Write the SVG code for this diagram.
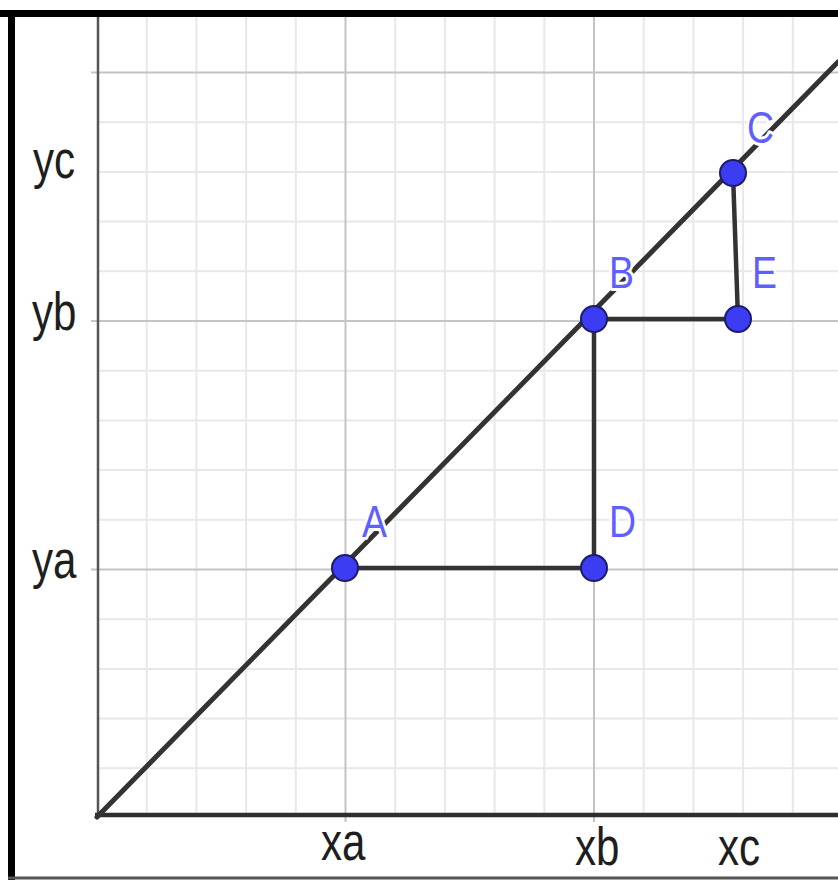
<svg xmlns="http://www.w3.org/2000/svg" width="838" height="880" viewBox="0 0 838 880">
<style>
.minor{stroke:#e8e8e8;stroke-width:2;fill:none}
.major{stroke:#c4c4c4;stroke-width:2;fill:none}
.seg{stroke:#333333;stroke-width:4.5;fill:none;stroke-linecap:round}
.diag{stroke:#333333;stroke-width:5;fill:none;stroke-linecap:round}
.pt{fill:#3c3cf2;stroke:#1c1c6a;stroke-width:2}
.lbl{font-family:"Liberation Sans",Arial,sans-serif;font-size:44px;fill:#5f5fff;stroke:#ffffff;stroke-width:6;paint-order:stroke;stroke-linejoin:round}
.ax{font-family:"Liberation Sans",Arial,sans-serif;font-size:54px;fill:#1e1e1e}
</style>
<rect x="0" y="0" width="838" height="880" fill="#ffffff"/>
<g id="grid">
<path class="minor" d="M146.7 17V816M196.4 17V816M246.1 17V816M295.8 17V816M395.2 17V816M444.9 17V816M494.6 17V816M544.3 17V816M643.7 17V816M693.4 17V816M743.1 17V816M792.8 17V816"/>
<path class="minor" d="M97 768.3H838M97 718.6H838M97 668.9H838M97 619.2H838M97 519.8H838M97 470.1H838M97 420.4H838M97 370.7H838M97 271.3H838M97 221.6H838M97 171.9H838M97 122.2H838"/>
<path class="major" d="M345.5 17V822M594 17V822M91 569.5H838M91 321H838M91 72.5H838"/>
</g>
<g id="axes">
<line x1="98" y1="17" x2="98" y2="816" stroke="#555" stroke-width="2.5"/>
<line x1="95" y1="815" x2="838" y2="815" stroke="#2e2e2e" stroke-width="4.5"/>
</g>
<g id="frame">
<line x1="0" y1="13.5" x2="838" y2="13.5" stroke="#000" stroke-width="7"/>
<line x1="11.5" y1="10" x2="11.5" y2="880" stroke="#000" stroke-width="7"/>
<line x1="8" y1="878" x2="838" y2="878" stroke="#555" stroke-width="3"/>
</g>
<g id="connectors">
<line class="diag" x1="97" y1="817" x2="838" y2="62"/>
<line class="seg" x1="345" y1="568" x2="594" y2="568"/>
<line class="seg" x1="594" y1="568" x2="594" y2="319"/>
<line class="seg" x1="594" y1="319" x2="738" y2="319"/>
<line class="seg" x1="738" y1="319" x2="733" y2="173"/>
</g>
<g id="A"><circle class="pt" cx="345" cy="568" r="13"/><text class="lbl" transform="translate(362,537) scale(0.85,1)">A</text></g>
<g id="D"><circle class="pt" cx="594" cy="568" r="13"/><text class="lbl" transform="translate(609,537) scale(0.85,1)">D</text></g>
<g id="B"><circle class="pt" cx="594" cy="319" r="13"/><text class="lbl" transform="translate(609,288) scale(0.85,1)">B</text></g>
<g id="E"><circle class="pt" cx="738" cy="319" r="13"/><text class="lbl" transform="translate(752,288) scale(0.85,1)">E</text></g>
<g id="C"><circle class="pt" cx="733" cy="173" r="13"/><text class="lbl" transform="translate(747,143) scale(0.85,1)">C</text></g>
<g id="axis-labels">
<text class="ax" transform="translate(33,178) scale(0.78,1)">yc</text>
<text class="ax" transform="translate(32,330) scale(0.78,1)">yb</text>
<text class="ax" transform="translate(32,578) scale(0.78,1)">ya</text>
<text class="ax" transform="translate(321,860) scale(0.78,1)">xa</text>
<text class="ax" transform="translate(575,865) scale(0.78,1)">xb</text>
<text class="ax" transform="translate(718,865) scale(0.78,1)">xc</text>
</g>
</svg>
